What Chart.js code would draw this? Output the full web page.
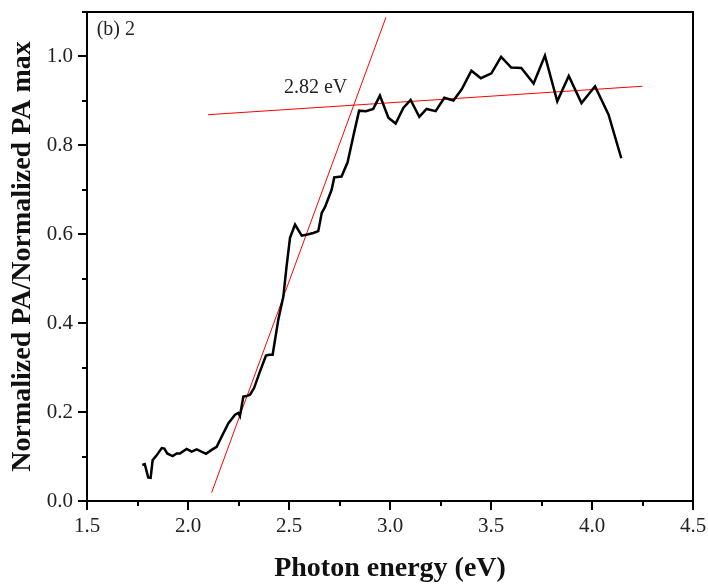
<!DOCTYPE html>
<html>
<head>
<meta charset="utf-8">
<script src="https://cdn.jsdelivr.net/npm/chart.js@4/dist/chart.umd.min.js"></script>
<style>
  html, body { margin:0; padding:0; background:#fff; }
  #wrap { width:708px; height:586px; }
</style>
</head>
<body>
<div id="wrap"><canvas id="chart" width="708" height="586"></canvas></div>
<script>
// photon energy (eV) and normalized PA signal
const energy = [1.774,1.786,1.803,1.815,1.825,1.842,1.870,1.883,1.897,1.924,1.944,1.960,1.993,2.018,2.043,2.059,
  2.089,2.117,2.142,2.167,2.200,2.233,2.249,2.257,2.274,2.290,2.307,2.327,2.356,2.386,2.402,2.419,
  2.447,2.472,2.488,2.505,2.530,2.563,2.596,2.620,2.645,2.662,2.678,2.711,2.724,2.760,2.790,2.818,
  2.847,2.881,2.917,2.950,2.992,3.028,3.066,3.102,3.145,3.181,3.226,3.269,3.314,3.355,3.403,3.450,
  3.502,3.550,3.600,3.650,3.711,3.767,3.828,3.885,3.948,4.015,4.082,4.145];
const signal = [0.081,0.083,0.053,0.052,0.092,0.101,0.119,0.118,0.107,0.101,0.107,0.107,0.117,0.111,0.116,0.113,
  0.106,0.115,0.122,0.145,0.175,0.194,0.198,0.191,0.235,0.236,0.239,0.254,0.291,0.327,0.329,0.329,
  0.408,0.460,0.528,0.592,0.622,0.597,0.600,0.603,0.607,0.648,0.661,0.700,0.728,0.730,0.762,0.820,
  0.878,0.877,0.882,0.912,0.862,0.849,0.884,0.902,0.864,0.882,0.877,0.907,0.901,0.926,0.968,0.951,
  0.962,0.999,0.975,0.974,0.939,1.002,0.899,0.956,0.895,0.933,0.869,0.771];

// the two red fit lines (end points)
const edgeFitX = [2.117, 2.980];
const edgeFitY = [0.019, 1.088];
const plateauFitX = [2.099, 4.250];
const plateauFitY = [0.869, 0.933];

// texts
const gapLabel = "2.82 eV";
const gapLabelAt = [2.475, 0.930];
const panelLabel = "(b) 2";
const panelLabelAt = [1.548, 1.061];
const xTitle = "Photon energy (eV)";
const yTitle = "Normalized PA/Normalized PA max";

const SERIF = '"Liberation Serif", "Times New Roman", serif';
const pts = (xs, ys) => xs.map((x, i) => ({ x, y: ys[i] }));
const isMajor = (v, step) => Math.abs(v / step - Math.round(v / step)) < 1e-6;
const noPad = s => { s.paddingLeft = 0; s.paddingRight = 0; s.paddingTop = 0; s.paddingBottom = 0; };

const frame = {
  id: "frame",
  afterDatasetsDraw(chart){
    const { ctx, chartArea:a, scales:{ x, y } } = chart;
    ctx.save();
    ctx.strokeStyle = "#000";
    ctx.lineWidth = 2;
    ctx.strokeRect(a.left, a.top, a.right - a.left, a.bottom - a.top);
    ctx.beginPath();
    x.ticks.forEach(t => {
      const px = Math.round(x.getPixelForValue(t.value));
      const len = isMajor(t.value, 0.5) ? 9 : 5;
      ctx.moveTo(px, a.bottom); ctx.lineTo(px, a.bottom + len);
    });
    y.ticks.forEach(t => {
      const py = Math.round(y.getPixelForValue(t.value));
      const len = isMajor(t.value, 0.2) ? 9 : 5;
      ctx.moveTo(a.left, py); ctx.lineTo(a.left - len, py);
    });
    ctx.stroke();

    ctx.fillStyle = "#222";
    ctx.font = `20px ${SERIF}`;
    ctx.textBaseline = "middle";
    ctx.textAlign = "left";
    ctx.fillText(gapLabel, x.getPixelForValue(gapLabelAt[0]), y.getPixelForValue(gapLabelAt[1]));
    ctx.fillText(panelLabel, x.getPixelForValue(panelLabelAt[0]), y.getPixelForValue(panelLabelAt[1]));
    ctx.restore();
  }
};

new Chart(document.getElementById("chart"), {
  type: "line",
  data: {
    datasets: [
      { data: pts(energy, signal), borderColor:"#000", borderWidth:2.5, pointRadius:0, tension:0 },
      { data: pts(edgeFitX, edgeFitY), borderColor:"#ff0000", borderWidth:1, pointRadius:0 },
      { data: pts(plateauFitX, plateauFitY), borderColor:"#ff0000", borderWidth:1, pointRadius:0 },
    ],
  },
  options: {
    responsive:false, animation:false,
    layout:{ padding:{ top:12, right:15, left:0, bottom:0 } },
    plugins:{ legend:{ display:false }, tooltip:{ enabled:false } },
    scales:{
      x:{
        type:"linear", min:1.5, max:4.5,
        afterFit: s => { s.height = 85; noPad(s); },
        grid:{ display:false, drawTicks:false }, border:{ display:false },
        ticks:{ stepSize:0.25, padding:13, color:"#222", font:{ family:SERIF, size:21 },
          autoSkip:false, maxRotation:0,
          callback: v => isMajor(v, 0.5) ? v.toFixed(1) : "" },
        title:{ display:true, text:xTitle, color:"#111",
          font:{ family:SERIF, size:28, weight:"bold" }, padding:{ top:0, bottom:0 } },
      },
      y:{
        min:0, max:1.1,
        afterFit: s => { s.width = 87; noPad(s); },
        grid:{ display:false, drawTicks:false }, border:{ display:false },
        ticks:{ stepSize:0.1, padding:14, color:"#222", font:{ family:SERIF, size:21 },
          autoSkip:false,
          callback: v => isMajor(v, 0.2) ? v.toFixed(1) : "" },
        title:{ display:true, text:yTitle, color:"#111",
          font:{ family:SERIF, size:28, weight:"bold" }, padding:{ top:6, bottom:0 } },
      },
    },
  },
  plugins:[frame],
});
</script>
</body>
</html>
